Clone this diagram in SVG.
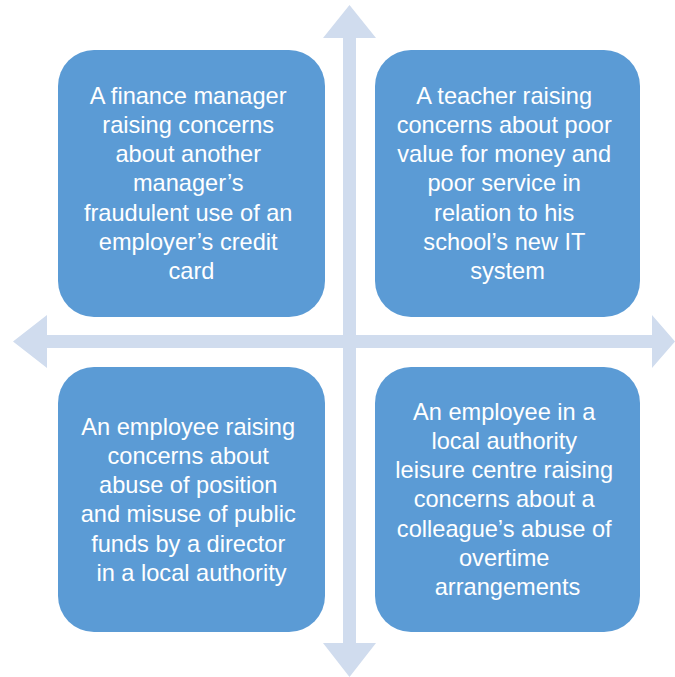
<svg xmlns="http://www.w3.org/2000/svg" width="675" height="677" viewBox="0 0 675 677">
<style>
.box{fill:#5B9BD5;}
.arrow{fill:#D0DCEE;}
.lbl{font-family:"Liberation Sans",Arial,sans-serif;font-size:23.6px;fill:#FFFFFF;text-anchor:middle;}
</style>
<rect width="675" height="677" fill="#FFFFFF"/>
<g id="connectors">
<path class="arrow" d="M349.5,5 L376,38 L356,38 L356,643 L376,643 L349.5,677 L323,643 L343,643 L343,38 L323,38 Z"/>
<path class="arrow" d="M13,341.5 L47,315 L47,335 L652,335 L652,315 L675,341.5 L652,368 L652,348 L47,348 L47,368 Z"/>
</g>
<g id="node-tl">
<rect class="box" x="58" y="50" width="267" height="267" rx="36"/>
<text class="lbl" x="191.5" y="103.5">
<tspan x="191.5" dy="0">A finance manager</tspan>
<tspan x="191.5" dy="29.3">raising concerns</tspan>
<tspan x="191.5" dy="29.3">about another</tspan>
<tspan x="191.5" dy="29.3">manager’s</tspan>
<tspan x="191.5" dy="29.3">fraudulent use of an</tspan>
<tspan x="191.5" dy="29.3">employer’s credit</tspan>
<tspan x="191.5" dy="29.3">card</tspan>
</text>
</g>
<g id="node-tr">
<rect class="box" x="375" y="50" width="265" height="267" rx="36"/>
<text class="lbl" x="507.5" y="103.5">
<tspan x="507.5" dy="0">A teacher raising</tspan>
<tspan x="507.5" dy="29.3">concerns about poor</tspan>
<tspan x="507.5" dy="29.3">value for money and</tspan>
<tspan x="507.5" dy="29.3">poor service in</tspan>
<tspan x="507.5" dy="29.3">relation to his</tspan>
<tspan x="507.5" dy="29.3">school’s new IT</tspan>
<tspan x="507.5" dy="29.3">system</tspan>
</text>
</g>
<g id="node-bl">
<rect class="box" x="58" y="367" width="267" height="265" rx="36"/>
<text class="lbl" x="191.5" y="434.5">
<tspan x="191.5" dy="0">An employee raising</tspan>
<tspan x="191.5" dy="29.3">concerns about</tspan>
<tspan x="191.5" dy="29.3">abuse of position</tspan>
<tspan x="191.5" dy="29.3">and misuse of public</tspan>
<tspan x="191.5" dy="29.3">funds by a director</tspan>
<tspan x="191.5" dy="29.3">in a local authority</tspan>
</text>
</g>
<g id="node-br">
<rect class="box" x="375" y="367" width="265" height="265" rx="36"/>
<text class="lbl" x="507.5" y="419.5">
<tspan x="507.5" dy="0">An employee in a</tspan>
<tspan x="507.5" dy="29.3">local authority</tspan>
<tspan x="507.5" dy="29.3">leisure centre raising</tspan>
<tspan x="507.5" dy="29.3">concerns about a</tspan>
<tspan x="507.5" dy="29.3">colleague’s abuse of</tspan>
<tspan x="507.5" dy="29.3">overtime</tspan>
<tspan x="507.5" dy="29.3">arrangements</tspan>
</text>
</g>
</svg>
